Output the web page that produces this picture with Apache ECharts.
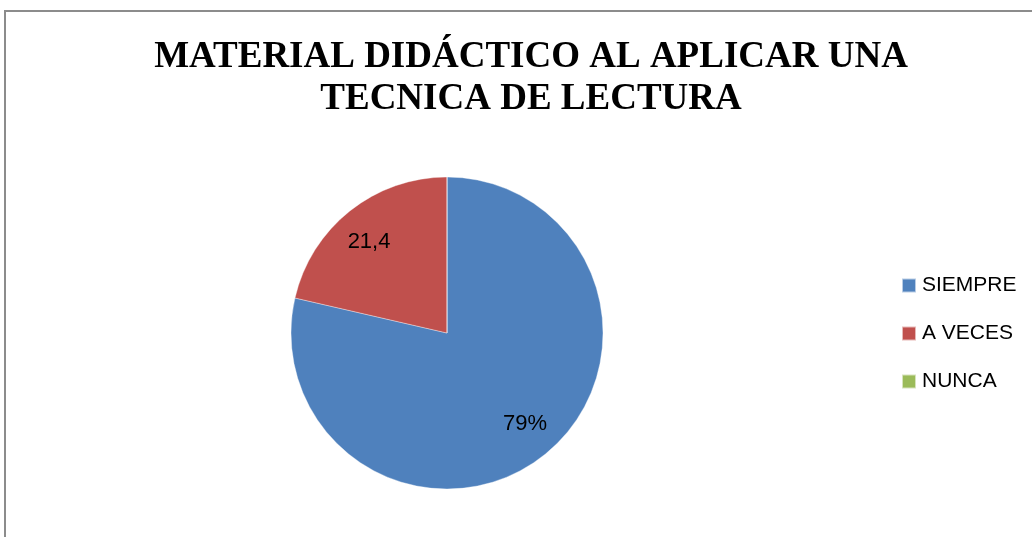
<!DOCTYPE html>
<html>
<head>
<meta charset="utf-8">
<script src="https://cdn.jsdelivr.net/npm/echarts@6/dist/echarts.min.js"></script>
<style>
html,body{margin:0;padding:0;background:#fff;}
#chart{width:1032px;height:537px;}
</style>
</head>
<body>
<div id="chart"></div>
<script>
var categories = ['SIEMPRE', 'A VECES', 'NUNCA'];
var values = [78.6, 21.4, 0];
var labelTexts = ['79%', '21,4', ''];
var colors = ['#4F81BD', '#C0504D', '#9BBB59'];
var titleText = 'MATERIAL DIDÁCTICO AL APLICAR UNA\nTECNICA DE LECTURA';

var pieData = categories.map(function (c, i) {
  return { name: c, value: values[i], itemStyle: { color: colors[i] } };
});

var chart = echarts.init(document.getElementById('chart'), null, { renderer: 'canvas' });
chart.setOption({
  backgroundColor: '#ffffff',
  animation: false,
  graphic: [{
    type: 'rect',
    shape: { x: 5, y: 11, width: 1200, height: 700 },
    style: { fill: 'none', stroke: '#8c8c8c', lineWidth: 2 },
    silent: true,
    z: -1
  }],
  title: {
    text: titleText,
    left: 526,
    top: 31,
    textAlign: 'center',
    textStyle: {
      fontFamily: '"Liberation Serif", "Times New Roman", serif',
      fontWeight: 'bold',
      fontSize: 37,
      lineHeight: 42,
      color: '#000'
    }
  },
  legend: {
    orient: 'vertical',
    left: 901,
    top: 275,
    padding: 0,
    itemWidth: 14,
    itemHeight: 14,
    itemGap: 27,
    icon: 'rect',
    data: categories,
    textStyle: {
      fontFamily: '"Liberation Sans", Arial, sans-serif',
      fontSize: 21,
      color: '#000',
      padding: [0, 0, 0, 1]
    }
  },
  series: [{
    type: 'pie',
    center: [447, 333],
    radius: [0, 156],
    startAngle: 90,
    clockwise: true,
    label: { show: false },
    labelLine: { show: false },
    itemStyle: { borderColor: 'rgba(255,255,255,0.6)', borderWidth: 0.6 },
    emphasis: { disabled: true },
    data: pieData
  }, {
    type: 'pie',
    center: [447, 333],
    radius: [78, 156],
    startAngle: 92,
    clockwise: true,
    silent: true,
    legendHoverLink: false,
    itemStyle: { color: 'rgba(0,0,0,0)', borderWidth: 0 },
    label: {
      show: true,
      position: 'inside',
      fontFamily: '"Liberation Sans", Arial, sans-serif',
      fontSize: 22,
      color: '#000',
      formatter: function (p) { return labelTexts[p.dataIndex]; }
    },
    labelLine: { show: false },
    emphasis: { disabled: true },
    data: categories.map(function (c, i) {
      return { name: c, value: values[i], itemStyle: { color: 'rgba(0,0,0,0)' } };
    })
  }]
});
</script>
</body>
</html>
